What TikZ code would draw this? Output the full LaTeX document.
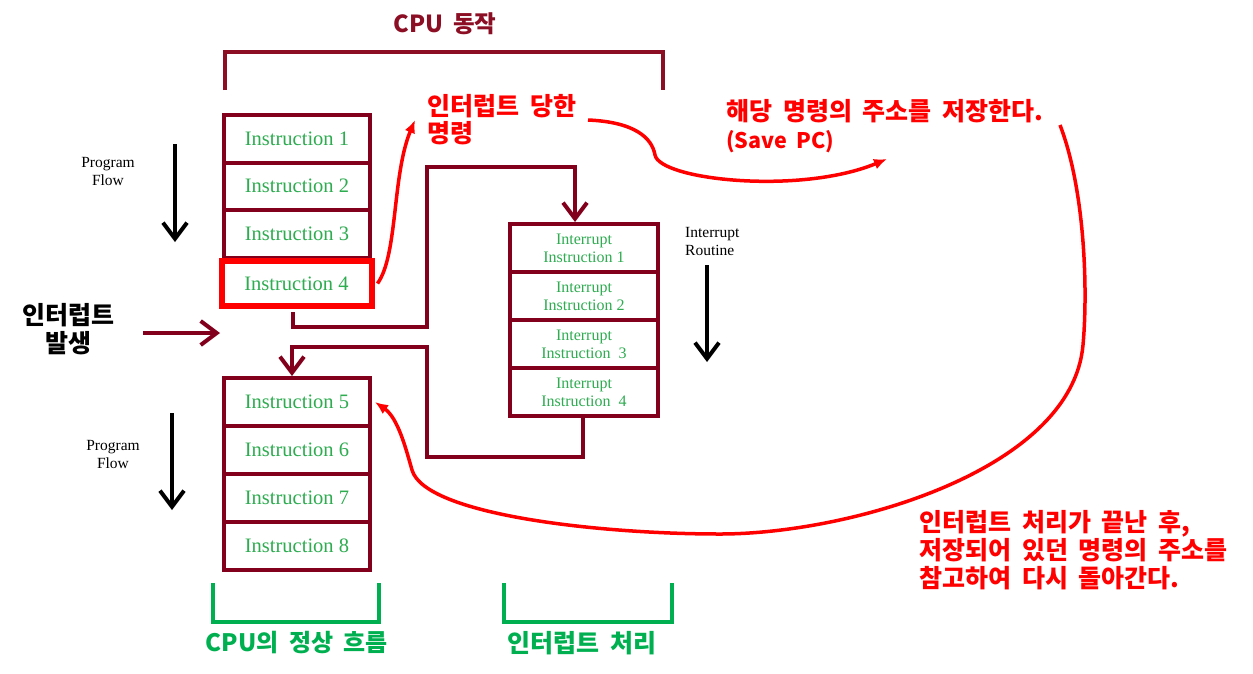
\documentclass[tikz,border=0pt]{standalone}
\usepackage{fontspec}
\setmainfont{Liberation Serif}
\newfontfamily\kr{Noto Sans CJK KR}[WordSpace=1.9]
\usetikzlibrary{arrows.meta}
\definecolor{dred}{RGB}{130,0,28}
\definecolor{tred}{RGB}{140,14,36}
\definecolor{igreen}{RGB}{45,172,80}
\definecolor{kgreen}{RGB}{0,176,80}
\definecolor{pred}{RGB}{255,0,0}
\begin{document}
\begin{tikzpicture}[x=1pt,y=-1pt,
  cell/.style={draw=dred, line width=4pt, fill=white, minimum width=146pt, inner sep=0pt, text=igreen, font=\fontsize{20.5}{24}\selectfont},
  ircell/.style={cell, minimum width=148pt, minimum height=48pt, align=center, font=\fontsize{16}{18}\selectfont},
  conn/.style={draw=dred, line width=4pt},
  barb/.style={-{Straight Barb[length=16pt,width=24pt]}},
  redarrow/.style={draw=pred, line width=3.5pt, -{Latex[length=13pt,width=11pt]}},
  krlab/.style={inner sep=0pt, font=\kr\bfseries\fontsize{25}{28}\selectfont},
  serlab/.style={inner sep=0pt, font=\fontsize{15.5}{18}\selectfont, align=center},
  bracket/.style={line width=4pt}
]
\useasboundingbox (0,0) rectangle (1253,673);

% title and top bracket
\node[krlab, text=tred, font=\kr\bfseries\fontsize{23.5}{28}\selectfont] (title) at (445,24) {CPU 동작};
\draw[bracket, tred] (225,90) -- (225,52) -- (663,52) -- (663,90);

% main program stack, part 1
\node[cell, minimum height=47.5pt] (i1) at (297,138.75) {Instruction 1};
\node[cell, minimum height=47.5pt] (i2) at (297,186.25) {Instruction 2};
\node[cell, minimum height=47.5pt] (i3) at (297,233.75) {Instruction 3};
\node[cell, draw=pred, line width=6pt, minimum width=150pt, minimum height=45pt] (i4) at (296.5,283.5) {Instruction 4};

% main program stack, part 2
\node[cell, minimum height=48pt] (i5) at (297,402) {Instruction 5};
\node[cell, minimum height=48pt] (i6) at (297,450) {Instruction 6};
\node[cell, minimum height=48pt] (i7) at (297,498) {Instruction 7};
\node[cell, minimum height=48pt] (i8) at (297,546) {Instruction 8};

% interrupt routine stack
\node[ircell] (ir1) at (584,248) {Interrupt\\Instruction 1};
\node[ircell] (ir2) at (584,296) {Interrupt\\Instruction 2};
\node[ircell] (ir3) at (584,344) {Interrupt\\Instruction\ \ 3};
\node[ircell] (ir4) at (584,392) {Interrupt\\Instruction\ \ 4};

% connectors
\draw[conn, barb] ([xshift=-3.5pt,yshift=-3pt]i4.south) |- (427,327) -- (427,167) -| ([xshift=-9pt]ir1.north);
\draw[conn, barb] ([xshift=-1pt]ir4.south) |- (427,457) -- (427,347) -| ([xshift=-5pt]i5.north);

% program flow labels and arrows
\node[serlab] (pf1) at (108,171) {Program\\Flow};
\node[serlab] (pf2) at (113,454) {Program\\Flow};
\node[serlab, align=left, anchor=west] (irr) at (685,241) {Interrupt\\Routine};
\coordinate (pf1s) at (175,144); \coordinate (pf1e) at (175,242);
\coordinate (pf2s) at (172,413); \coordinate (pf2e) at (172,510);
\coordinate (irs) at (707,265); \coordinate (ire) at (707,362);
\draw[line width=4pt, barb] (pf1s) -- (pf1e);
\draw[line width=4pt, barb] (pf2s) -- (pf2e);
\draw[line width=4pt, barb] (irs) -- (ire);

% interrupt occurrence
\node[krlab, text=black, align=center] (occ) at (68,329) {인터럽트\\발생};
\coordinate (occs) at (143,333); \coordinate (occe) at (220,333);
\draw[conn, barb] (occs) -- (occe);

% red annotations
\node[krlab, text=pred, anchor=west, align=left, font=\kr\bfseries\fontsize{25}{27}\selectfont] (hit) at (427,120) {인터럽트 당한\\명령};
\node[krlab, text=pred, anchor=west, align=left] (save) at (726,126) {해당 명령의 주소를 저장한다.\\{\fontsize{21.5}{28}\selectfont (Save PC)}};
\node[krlab, text=pred, anchor=west, align=left] (ret) at (919,550) {인터럽트 처리가 끝난 후,\\저장되어 있던 명령의 주소를\\참고하여 다시 돌아간다.};

\coordinate (hittip) at (415,120);
\draw[redarrow] ([xshift=3pt]i4.east) .. controls (398,255) and (392,175) .. (hittip);
\coordinate (s2) at (588,120);
\coordinate (savetip) at (887,159);
\draw[redarrow] (s2) .. controls (635,122) and (652,138) .. (655,155) .. controls (660,180) and (800,195) .. (savetip);
\coordinate (s3) at (1060,125);
\draw[redarrow] (s3) .. controls (1085,190) and (1088,290) .. (1083,345) .. controls (1072,470) and (850,534) .. (720,534) .. controls (600,534) and (425,515) .. (412,470) .. controls (406,449) and (398,418) .. ([xshift=3pt]i5.east);

% green brackets and labels
\draw[bracket, kgreen] (213,583) -- (213,622) -- (379,622) -- (379,583);
\draw[bracket, kgreen] (504,583) -- (504,622) -- (672,622) -- (672,583);
\node[krlab, text=kgreen, font=\kr\bfseries\fontsize{24}{28}\selectfont] (gl1) at (297,643) {CPU의 정상 흐름};
\node[krlab, text=kgreen] (gl2) at (582,643) {인터럽트 처리};
\end{tikzpicture}
\end{document}
